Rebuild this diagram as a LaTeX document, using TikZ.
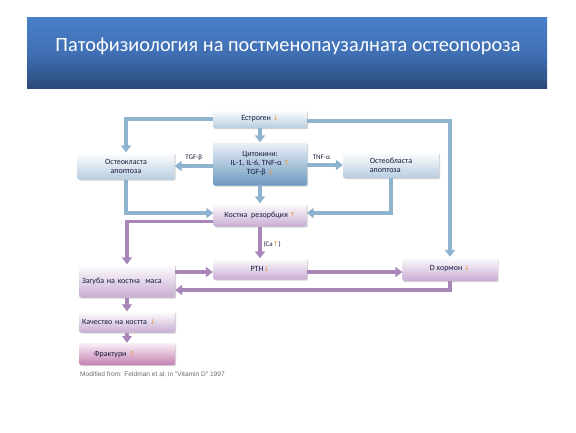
\documentclass[tikz,border=0pt]{standalone}
\usepackage{fontspec}
\setmainfont{Carlito}
\newfontfamily\arrfont{DejaVu Sans}
\newfontfamily\capfont{Liberation Sans}
\usetikzlibrary{arrows.meta,shadows,positioning}
\definecolor{txtcol}{HTML}{181C40}
\definecolor{arrcol}{HTML}{E89A3C}
\definecolor{blueline}{HTML}{8DB3CE}
\definecolor{purpline}{HTML}{A887B8}
\newcommand\dnarr{{\arrfont\color{arrcol}\fontsize{7}{8}\selectfont↓}}
\newcommand\uparr{{\arrfont\color{arrcol}\fontsize{7}{8}\selectfont↑}}
\tikzset{
  boxbase/.style={rounded corners=2pt, draw=none, font=\fontsize{8}{9}\selectfont, text=txtcol,
    inner sep=2pt, drop shadow={shadow xshift=1.2pt, shadow yshift=-1.2pt, opacity=0.35, fill=gray}},
  bluebox/.style={boxbase, top color=white, bottom color={rgb,255:red,184;green,205;blue,224}},
  cytbox/.style={boxbase, top color={rgb,255:red,236;green,242;blue,247}, bottom color={rgb,255:red,108;green,152;blue,192}},
  purpbox/.style={boxbase, top color=white, bottom color={rgb,255:red,200;green,172;blue,210}},
  fracbox/.style={boxbase, top color={rgb,255:red,250;green,240;blue,247}, bottom color={rgb,255:red,195;green,128;blue,176}},
  bconn/.style={draw=blueline, line width=3.2pt, -{Triangle[length=7pt,width=10pt]}},
  pconn/.style={draw=purpline, line width=3.2pt, -{Triangle[length=7pt,width=10pt]}},
  lab/.style={font=\fontsize{7}{8}\selectfont, text=txtcol, inner sep=1pt}
}
\begin{document}
\begin{tikzpicture}[x=1pt,y=-1pt]
\useasboundingbox (0,0) rectangle (576,432);
\fill[white] (0,0) rectangle (576,432);
% title banner
\shade[top color={rgb,255:red,72;green,128;blue,200}, bottom color={rgb,255:red,44;green,74;blue,124}, middle color={rgb,255:red,64;green,112;blue,180}] (27,17) rectangle (547,88);
\node[text=white, font=\fontsize{20.3}{23}\selectfont] (title) at (288,46) {Патофизиология на постменопаузалната остеопороза};

% nodes
\node[bluebox, minimum width=94pt, minimum height=18pt] (est) at (260,119) {Естроген \dnarr};
\node[cytbox, minimum width=94pt, minimum height=43pt, align=center] (cyt) at (260,164) {Цитокини:\\IL-1, IL-6, TNF-α \uparr\\TGF-β \dnarr};
\node[bluebox, minimum width=97pt, minimum height=27pt, align=center] (ocl) at (126,166) {Остеокласта\\апоптоза};
\node[bluebox, minimum width=96pt, minimum height=26pt, align=left] (obl) at (391,165) {Остеобласта\\апоптоза};
\node[purpbox, minimum width=93pt, minimum height=23pt] (kr) at (260,215) {Костна\ \ резорбция \uparr};
\node[purpbox, minimum width=94pt, minimum height=21pt] (pth) at (260,269) {PTH\dnarr};
\node[purpbox, minimum width=95pt, minimum height=24pt] (dh) at (450,269) {D хормон \dnarr};
\node[purpbox, minimum width=96pt, minimum height=33pt, text width=90pt, align=left] (zag) at (127,281) {Загуба\ на\ костна\ \ маса};
\node[purpbox, minimum width=96pt, minimum height=21pt, text width=90pt, align=left] (kach) at (127,322) {Качество на костта \dnarr};
\node[fracbox, minimum width=96pt, minimum height=22pt, text width=90pt, align=left] (frac) at (127,354) {\hspace*{12pt}Фрактури \uparr};
\node[anchor=west, font=\capfont\fontsize{6.6}{7}\selectfont, text=gray!85!black, inner sep=0pt] (cap) at (80,375) {Modified from: Feldman et al, in "Vitamin D" 1997};

% helper coordinates
\coordinate (zagup) at ([yshift=9pt]zag.east);
\coordinate (zagdn) at ([yshift=-9pt]zag.east);
\coordinate (krl) at ([yshift=5pt]kr.south west);

% blue connectors
\draw[bconn] (est) -- (cyt);
\draw[bconn] (est.west) -| (ocl.north);
\draw[bconn] ([yshift=-2pt]est.east) -| (dh.north);
\draw[bconn] (cyt.west |- ocl.east) -- node[lab, above, pos=0.5, yshift=3pt] {TGF-β} (ocl.east);
\draw[bconn] (cyt.east |- obl.west) -- node[lab, above, pos=0.4, yshift=3pt] {TNF-α} (obl.west);
\draw[bconn] (cyt) -- (kr);
\draw[bconn] (ocl.south) |- ([yshift=2pt]kr.west);
\draw[bconn] (obl.south) |- ([yshift=2pt]kr.east);

% purple connectors
\draw[pconn] (krl) -| (zag.north);
\draw[pconn] (kr) -- node[lab, right, pos=0.55, xshift=1pt] {(Ca\uparr)} (pth);
\draw[pconn] (zagup) -- (pth.west |- zagup);
\draw[pconn] (pth.east |- zagup) -- (dh.west |- zagup);
\draw[pconn] (dh.south) |- (zagdn);
\draw[pconn] (zag) -- (kach);
\draw[pconn] (kach) -- (frac);
\end{tikzpicture}
\end{document}
